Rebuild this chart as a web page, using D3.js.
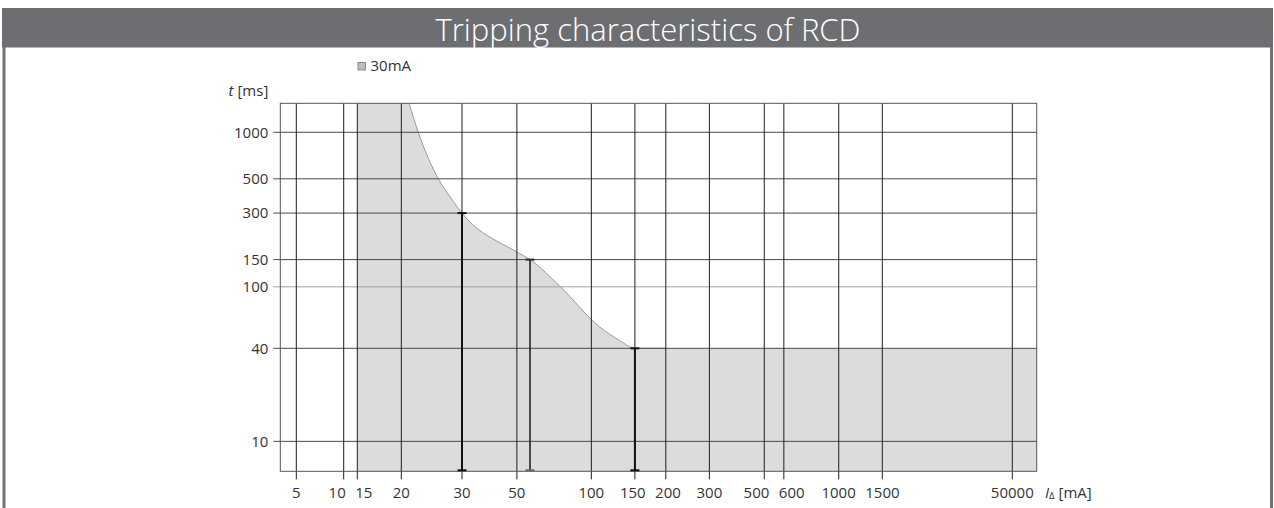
<!DOCTYPE html>
<html>
<head>
<meta charset="utf-8">
<script src="https://cdn.jsdelivr.net/npm/d3@7/dist/d3.min.js"></script>
<style>
  html, body { margin: 0; padding: 0; background: #fff; }
  svg { display: block; }
</style>
</head>
<body>
<svg id="chart" width="1274" height="508"></svg>
<script>
// ---------- data ----------
const titleText = "Tripping characteristics of RCD";
const seriesName = "30mA";
const xTickValues = [5, 10, 15, 20, 30, 50, 100, 150, 200, 300, 500, 600, 1000, 1500, 50000];
const yTickValues = [10, 40, 100, 150, 300, 500, 1000];
// boundary of the shaded tripping area (current mA, time ms)
const curveCurrent = [21.06, 22.4, 25.6, 27.7, 30, 50, 56.5, 75, 108, 130, 150];
const curveTime    = [1540, 1000, 500, 382, 300, 168, 150, 100, 55, 45, 40];
const areaStart = 15;        // shaded area starts at 15 mA
const areaEnd = 70000;       // extends to the right edge
const areaFloorTime = 40;    // flat part after 150 mA
// limit bars (current mA, time ms)
const barCurrent = [30, 56.5, 150];
const barTime = [300, 150, 40];

// ---------- layout ----------
const W = 1274, H = 508;
const plot = { left: 280.3, top: 103.3, right: 1036.7, bottom: 471.3 };
const pw = plot.right - plot.left;
const svg = d3.select("#chart");
const FONT = "'Open Sans', 'Noto Sans', sans-serif";
const FS = 15;

// frame + title bar
svg.append("rect").attr("x", 2).attr("y", 8).attr("width", 1271).attr("height", 39.5).attr("fill", "#6d6e72");
svg.append("rect").attr("x", 2.5).attr("y", 47).attr("width", 3).attr("height", H - 47).attr("fill", "#717276");
svg.append("rect").attr("x", 1270).attr("y", 47).attr("width", 3).attr("height", H - 47).attr("fill", "#717276");
svg.append("text").attr("x", 648).attr("y", 41).attr("text-anchor", "middle")
  .attr("fill", "#fff").attr("font-family", FONT).attr("font-weight", 300).attr("font-size", 31)
  .text(titleText);

// ---------- scales ----------
// x axis of the chart is logarithmic between 30 and 1500 mA and compressed outside that band
const xBreakVals = [4, 5, 10, 15, 20, 30, 1500, 50000, 70000];
const xBreakFrac = [0, 0.02115, 0.08382, 0.10180, 0.15997, 0.24021, 0.79588, 0.96774, 1];
const xLin = d3.scaleLinear()
  .domain(xBreakVals.map(v => Math.log10(v)))
  .range(xBreakFrac.map(f => plot.left + f * pw));
const x = v => xLin(Math.log10(v));
const y = d3.scaleLog().domain([6.4, 1540]).range([plot.bottom, plot.top]);

// ---------- shaded area ----------
const curvePts = curveCurrent.map((c, i) => [x(c), y(curveTime[i])]);
const yTop = y.domain()[1], yBot = y.domain()[0];
const boundaryPts = curvePts.concat([[x(1500), y(areaFloorTime)], [x(areaEnd), y(areaFloorTime)]]);
const lineGen = d3.line().curve(d3.curveMonotoneX);
const boundaryPath = lineGen(boundaryPts);
const areaPath = "M" + x(areaStart) + "," + y(yTop) + "L" + boundaryPath.slice(1) +
  "L" + x(areaEnd) + "," + y(yBot) + "L" + x(areaStart) + "," + y(yBot) + "Z";
svg.append("path").attr("d", areaPath).attr("fill", "#dcdcdc").attr("stroke", "none");
svg.append("path").attr("d", lineGen(curvePts.concat([[x(200), y(areaFloorTime)]])))
  .attr("fill", "none").attr("stroke", "#9a9a9a").attr("stroke-width", 1);

// ---------- grid ----------
const g = svg.append("g");
g.selectAll("line.h").data(yTickValues).enter().append("line")
  .attr("x1", plot.left - 7).attr("x2", plot.right)
  .attr("y1", d => y(d)).attr("y2", d => y(d))
  .attr("stroke", d => d === 100 ? "#a0a0a0" : "#4a4a4a").attr("stroke-width", 1);
g.selectAll("line.v").data(xTickValues).enter().append("line")
  .attr("x1", d => x(d)).attr("x2", d => x(d))
  .attr("y1", plot.top).attr("y2", plot.bottom + 8)
  .attr("stroke", "#1e1e1e").attr("stroke-width", 1);
svg.append("rect").attr("x", plot.left).attr("y", plot.top).attr("width", pw)
  .attr("height", plot.bottom - plot.top).attr("fill", "none").attr("stroke", "#555").attr("stroke-width", 1);

// ---------- limit bars ----------
const bars = svg.append("g");
barCurrent.forEach((c, i) => {
  const col = i === 1 ? "#2e2e2e" : "#111";
  const sw = i === 1 ? 1.7 : 2;
  bars.append("line").attr("x1", x(c)).attr("x2", x(c)).attr("y1", y(barTime[i])).attr("y2", y(yBot) - 0.5)
    .attr("stroke", col).attr("stroke-width", sw);
  [barTime[i], yBot].forEach(t => {
    bars.append("line").attr("x1", x(c) - 4.5).attr("x2", x(c) + 4.5)
      .attr("y1", t === yBot ? y(t) - 1 : y(t)).attr("y2", t === yBot ? y(t) - 1 : y(t))
      .attr("stroke", i === 1 && t === yBot ? "#666" : col).attr("stroke-width", 2);
  });
});

// ---------- axis labels ----------
svg.append("g").selectAll("text").data(yTickValues).enter().append("text")
  .attr("x", plot.left - 12).attr("y", d => y(d)).attr("dy", "0.35em")
  .attr("text-anchor", "end").attr("font-family", FONT).attr("font-size", FS).attr("fill", "#333")
  .text(d => d);
const xLabels = svg.append("g").selectAll("text").data(xTickValues).enter().append("text")
  .attr("x", d => x(d)).attr("y", plot.bottom + 27)
  .attr("text-anchor", "middle").attr("font-family", FONT).attr("font-size", FS).attr("fill", "#333")
  .text(d => d);
// push crowded neighbouring labels apart
(function () {
  const nodes = xLabels.nodes();
  const items = nodes.map(n => ({ n, c: +n.getAttribute("x"), w: n.getComputedTextLength() }));
  const gap = 9.5;
  for (let iter = 0; iter < 20; iter++) {
    for (let i = 0; i < items.length - 1; i++) {
      const a = items[i], b = items[i + 1];
      const overlap = (a.c + a.w / 2 + gap) - (b.c - b.w / 2);
      if (overlap > 0.01) { a.c -= overlap / 2; b.c += overlap / 2; }
    }
  }
  items.forEach(it => it.n.setAttribute("x", it.c));
})();

const yl = svg.append("text").attr("x", plot.left - 12).attr("y", 96).attr("text-anchor", "end")
  .attr("font-family", FONT).attr("font-size", FS).attr("fill", "#333");
yl.append("tspan").attr("font-style", "italic").text("t");
yl.append("tspan").text(" [ms]");

const xl = svg.append("text").attr("x", 1045).attr("y", plot.bottom + 27)
  .attr("font-family", FONT).attr("font-size", FS).attr("fill", "#333");
xl.append("tspan").attr("font-style", "italic").text("I");
xl.append("tspan").attr("font-size", 9.5).attr("dy", 1).text("Δ");
xl.append("tspan").attr("dy", -1).text(" [mA]");

// ---------- legend ----------
svg.append("rect").attr("x", 358).attr("y", 62.5).attr("width", 7.5).attr("height", 7.5)
  .attr("fill", "#bdbdbd").attr("stroke", "#777").attr("stroke-width", 0.8);
svg.append("text").attr("x", 370.5).attr("y", 71).attr("font-family", FONT).attr("font-size", FS)
  .attr("fill", "#333").text(seriesName);
</script>
</body>
</html>
